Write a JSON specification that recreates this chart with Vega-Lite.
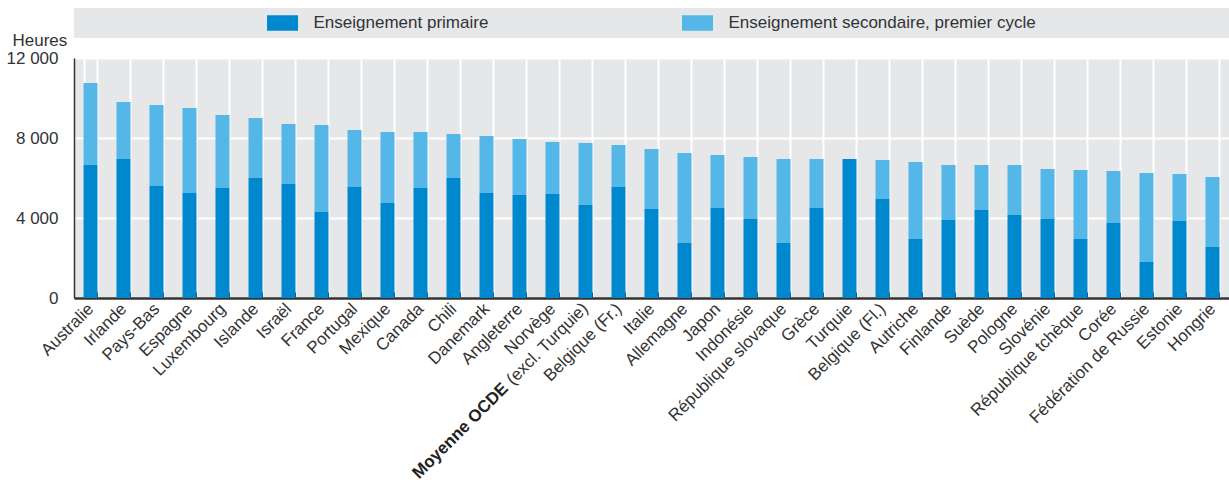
{
  "$schema": "https://vega.github.io/schema/vega-lite/v6.json",
  "padding": {"left": 6, "top": 8, "right": 0, "bottom": 0},
  "spacing": 20,
  "bounds": "flush",
  "config": {
    "font": "Liberation Sans, Arial, sans-serif",
    "view": {"fill": "#e6e7e9", "stroke": null},
    "locale": {"number": {"decimal": ",", "thousands": " ", "grouping": [3], "currency": ["", " €"]}}
  },
  "datasets": {
    "pays": [
      {"pays": "Australie", "primaire": 6650, "secondaire": 4100},
      {"pays": "Irlande", "primaire": 6950, "secondaire": 2850},
      {"pays": "Pays-Bas", "primaire": 5600, "secondaire": 4050},
      {"pays": "Espagne", "primaire": 5250, "secondaire": 4250},
      {"pays": "Luxembourg", "primaire": 5500, "secondaire": 3650},
      {"pays": "Islande", "primaire": 6000, "secondaire": 3000},
      {"pays": "Israël", "primaire": 5700, "secondaire": 3000},
      {"pays": "France", "primaire": 4300, "secondaire": 4350},
      {"pays": "Portugal", "primaire": 5550, "secondaire": 2850},
      {"pays": "Mexique", "primaire": 4750, "secondaire": 3550},
      {"pays": "Canada", "primaire": 5500, "secondaire": 2800},
      {"pays": "Chili", "primaire": 6000, "secondaire": 2200},
      {"pays": "Danemark", "primaire": 5250, "secondaire": 2850},
      {"pays": "Angleterre", "primaire": 5150, "secondaire": 2800},
      {"pays": "Norvège", "primaire": 5200, "secondaire": 2600},
      {"pays": "Moyenne OCDE (excl. Turquie)", "primaire": 4650, "secondaire": 3100},
      {"pays": "Belgique (Fr.)", "primaire": 5550, "secondaire": 2100},
      {"pays": "Italie", "primaire": 4450, "secondaire": 3000},
      {"pays": "Allemagne", "primaire": 2750, "secondaire": 4500},
      {"pays": "Japon", "primaire": 4500, "secondaire": 2650},
      {"pays": "Indonésie", "primaire": 3950, "secondaire": 3100},
      {"pays": "République slovaque", "primaire": 2750, "secondaire": 4200},
      {"pays": "Grèce", "primaire": 4500, "secondaire": 2450},
      {"pays": "Turquie", "primaire": 6950, "secondaire": 0},
      {"pays": "Belgique (Fl.)", "primaire": 4950, "secondaire": 1950},
      {"pays": "Autriche", "primaire": 2950, "secondaire": 3850},
      {"pays": "Finlande", "primaire": 3900, "secondaire": 2750},
      {"pays": "Suède", "primaire": 4400, "secondaire": 2250},
      {"pays": "Pologne", "primaire": 4150, "secondaire": 2500},
      {"pays": "Slovénie", "primaire": 3950, "secondaire": 2500},
      {"pays": "République tchèque", "primaire": 2950, "secondaire": 3450},
      {"pays": "Corée", "primaire": 3750, "secondaire": 2600},
      {"pays": "Fédération de Russie", "primaire": 1800, "secondaire": 4450},
      {"pays": "Estonie", "primaire": 3850, "secondaire": 2350},
      {"pays": "Hongrie", "primaire": 2550, "secondaire": 3500}
    ],
    "series": [
      {"niveau": "primaire", "libelle": "Enseignement primaire"},
      {"niveau": "secondaire", "libelle": "Enseignement secondaire, premier cycle"}
    ]
  },
  "vconcat": [
    {
      "width": 1155,
      "height": 30,
      "data": {"name": "series"},
      "layer": [
        {
          "mark": {"type": "point", "shape": "M-1,-0.5H1V0.5H-1Z", "filled": true, "size": 961, "opacity": 1, "strokeWidth": 0},
          "encoding": {
            "x": {"field": "niveau", "type": "nominal", "scale": {"type": "point", "padding": 0.8916, "align": 0.2818}, "axis": null},
            "color": {"field": "niveau", "type": "nominal", "legend": null}
          }
        },
        {
          "mark": {"type": "text", "dx": 31, "align": "left", "baseline": "middle", "fontSize": 17, "color": "#333333"},
          "encoding": {
            "x": {"field": "niveau", "type": "nominal", "axis": null},
            "text": {"field": "libelle"}
          }
        }
      ]
    },
    {
      "width": 1155,
      "height": 240,
      "data": {"name": "pays"},
      "encoding": {
        "x": {
          "field": "pays", "type": "nominal", "sort": null,
          "scale": {"paddingInner": 0.576, "paddingOuter": 0.288},
          "axis": {
            "title": null,
            "labelAngle": -45, "labelAlign": "right", "labelBaseline": "middle",
            "labelFontSize": 17, "labelColor": "#333333", "labelPadding": 14, "labelOverlap": false,
            "labelExpr": "datum.value == 'Moyenne OCDE (excl. Turquie)' ? '' : datum.value",
            "tickSize": -6, "tickColor": "#333333", "tickBand": "extent",
            "grid": true, "gridColor": "#ffffff", "gridWidth": 2,
            "domainColor": "#333333", "domainWidth": 2.5
          }
        }
      },
      "layer": [
        {
          "transform": [{"fold": ["primaire", "secondaire"], "as": ["niveau", "heures"]}],
          "mark": {"type": "bar"},
          "encoding": {
            "y": {
              "field": "heures", "type": "quantitative", "stack": "zero",
              "scale": {"domain": [0, 12000], "nice": false},
              "axis": {
                "title": "Heures", "titleAngle": 0, "titleAlign": "left", "titleBaseline": "alphabetic",
                "titleX": -62, "titleY": -13, "titleFontSize": 17, "titleFontWeight": "normal", "titleColor": "#333333",
                "values": [0, 2000, 4000, 6000, 8000, 10000, 12000], "tickCount": 6,
                "format": ",d",
                "labelFontSize": 17, "labelColor": "#333333", "labelPadding": 16, "labelOverlap": false,
                "tickSize": 0, "domainColor": "#333333", "domainWidth": 1.5,
                "grid": true, "gridColor": "#ffffff", "gridWidth": 2
              }
            },
            "color": {
              "field": "niveau", "type": "nominal",
              "scale": {"domain": ["primaire", "secondaire"], "range": ["#0088cf", "#55b7e8"]},
              "legend": null
            },
            "order": {"field": "niveau", "sort": "ascending"}
          }
        },
        {
          "transform": [{"filter": "datum.pays == 'Moyenne OCDE (excl. Turquie)'"}],
          "mark": {"type": "text", "text": "(excl. Turquie)", "angle": 315, "align": "right", "baseline": "middle", "yOffset": 8, "fontSize": 17, "color": "#333333"},
          "encoding": {
            "y": {
              "datum": 0, "type": "quantitative",
              "axis": {
                "title": "Heures", "titleAngle": 0, "titleAlign": "left", "titleBaseline": "alphabetic",
                "titleX": -62, "titleY": -13, "titleFontSize": 17, "titleFontWeight": "normal", "titleColor": "#333333",
                "values": [0, 2000, 4000, 6000, 8000, 10000, 12000], "tickCount": 6,
                "format": ",d",
                "labelFontSize": 17, "labelColor": "#333333", "labelPadding": 16, "labelOverlap": false,
                "tickSize": 0, "domainColor": "#333333", "domainWidth": 1.5,
                "grid": true, "gridColor": "#ffffff", "gridWidth": 2
              }
            }
          }
        },
        {
          "transform": [{"filter": "datum.pays == 'Moyenne OCDE (excl. Turquie)'"}],
          "mark": {"type": "text", "text": "Moyenne OCDE", "angle": 315, "align": "right", "baseline": "middle", "yOffset": 8, "dx": -113, "fontSize": 17, "fontWeight": "bold", "color": "#222222"},
          "encoding": {
            "y": {
              "datum": 0, "type": "quantitative",
              "axis": {
                "title": "Heures", "titleAngle": 0, "titleAlign": "left", "titleBaseline": "alphabetic",
                "titleX": -62, "titleY": -13, "titleFontSize": 17, "titleFontWeight": "normal", "titleColor": "#333333",
                "values": [0, 2000, 4000, 6000, 8000, 10000, 12000], "tickCount": 6,
                "format": ",d",
                "labelFontSize": 17, "labelColor": "#333333", "labelPadding": 16, "labelOverlap": false,
                "tickSize": 0, "domainColor": "#333333", "domainWidth": 1.5,
                "grid": true, "gridColor": "#ffffff", "gridWidth": 2
              }
            }
          }
        }
      ]
    }
  ]
}
